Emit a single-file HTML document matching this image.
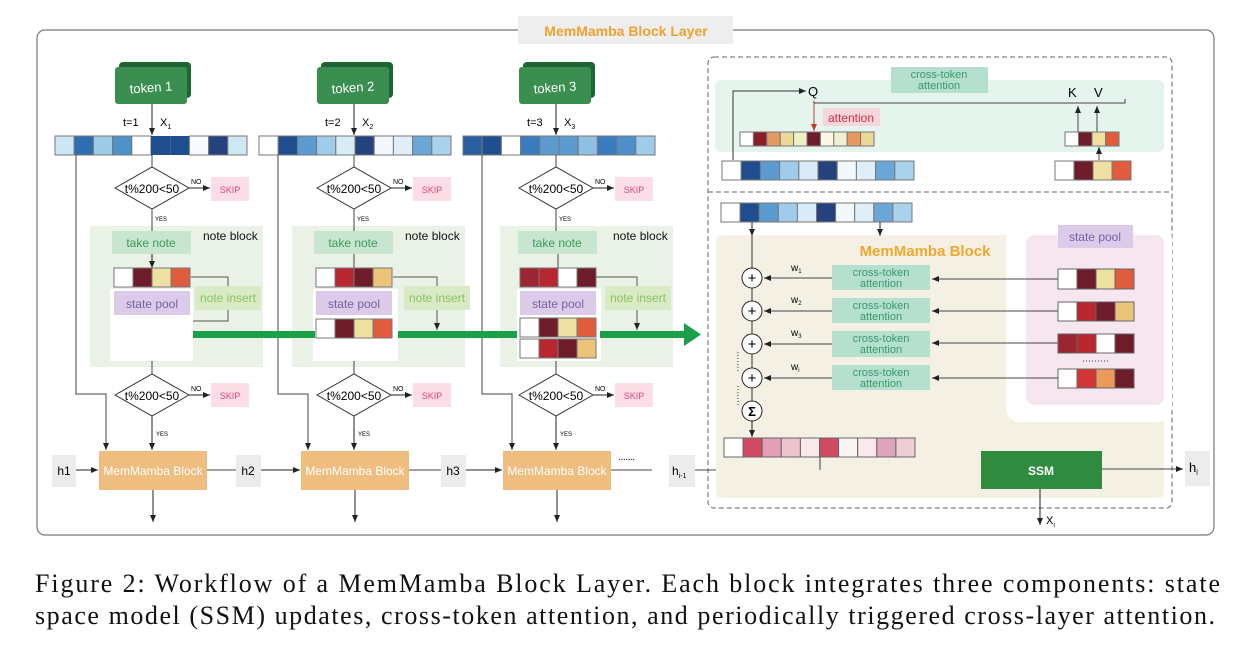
<!DOCTYPE html>
<html><head><meta charset="utf-8"><style>
html,body{margin:0;padding:0;background:#fff;}
svg{display:block;font-family:"Liberation Sans",sans-serif;}
</style></head><body>
<svg width="1256" height="656" viewBox="0 0 1256 656" xmlns="http://www.w3.org/2000/svg">
<defs>
<marker id="a" markerWidth="8" markerHeight="8" refX="7" refY="4" orient="auto" markerUnits="userSpaceOnUse"><path d="M0,1 L7,4 L0,7 z" fill="#222"/></marker>
<marker id="r" markerWidth="8" markerHeight="8" refX="7" refY="4" orient="auto" markerUnits="userSpaceOnUse"><path d="M0,1 L7,4 L0,7 z" fill="#c0392b"/></marker>
</defs>
<rect x="37" y="30" width="1177" height="505" rx="8" fill="none" stroke="#777" stroke-width="1.2"/>
<rect x="518" y="16" width="215" height="28" fill="#eeeeee"/>
<text x="626" y="36" font-size="14" font-weight="bold" fill="#f0a030" text-anchor="middle">MemMamba Block Layer</text>

<g id="c1">
<rect x="90" y="226" width="173" height="141" fill="#eaf2e8"/>
<text x="203" y="240" font-size="12" fill="#111">note block</text>
<rect x="119" y="62" width="72" height="36" rx="4" fill="#1f6535"/>
<rect x="115" y="67" width="72" height="37" rx="3" fill="#3a8f50"/>
<text x="151" y="92" font-size="13" fill="#fff" text-anchor="middle" transform="rotate(-4 151 88)">token 1</text>
<line x1="152" y1="104" x2="152" y2="135" stroke="#222" marker-end="url(#a)"/>
<text x="123" y="126" font-size="11">t=1</text>
<text x="160" y="126" font-size="11">X<tspan font-size="7" dy="3">1</tspan></text>
<g stroke="#777" stroke-width="1">
<rect x="55" y="136" width="19.2" height="19" fill="#cde6f3"/><rect x="74.2" y="136" width="19.2" height="19" fill="#2b6fb0"/><rect x="93.4" y="136" width="19.2" height="19" fill="#9ccbe6"/><rect x="112.6" y="136" width="19.2" height="19" fill="#4d93c8"/><rect x="131.8" y="136" width="19.2" height="19" fill="#fff"/><rect x="151" y="136" width="19.2" height="19" fill="#1f4e8f" stroke="none"/><rect x="170.2" y="136" width="19.2" height="19" fill="#1f4e8f" stroke="none"/><rect x="189.4" y="136" width="19.2" height="19" fill="#f7fbff"/><rect x="208.6" y="136" width="19.2" height="19" fill="#24427e"/><rect x="227.8" y="136" width="19.2" height="19" fill="#cfe6f3"/>
</g>
<polyline points="76,155 76,394 106,394 106,450" fill="none" stroke="#444" marker-end="url(#a)"/>
<line x1="152" y1="155" x2="152" y2="167" stroke="#444"/>
<polygon points="115,188 152,167 189,188 152,209" fill="#fff" stroke="#333"/>
<text x="152" y="193" font-size="12" text-anchor="middle">t%200&lt;50</text>
<line x1="189" y1="188" x2="210" y2="188" stroke="#222" marker-end="url(#a)"/>
<text x="191" y="184" font-size="7">NO</text>
<rect x="211" y="177" width="38" height="24" fill="#fbdde6"/>
<text x="230" y="193" font-size="9" fill="#e8457a" text-anchor="middle">SKIP</text>
<line x1="152" y1="209" x2="152" y2="231" stroke="#444"/>
<text x="155" y="221" font-size="6">YES</text>
<rect x="112" y="231" width="79" height="23" fill="#c8e6cf"/>
<text x="151" y="247" font-size="12" fill="#3a9a5a" text-anchor="middle">take note</text>
<line x1="152" y1="254" x2="152" y2="268" stroke="#222" marker-end="url(#a)"/>
<rect x="110" y="289" width="83" height="72" fill="#fff"/>
<rect x="114" y="291" width="76" height="24" fill="#dccbe8"/>
<text x="152" y="308" font-size="12" fill="#7b5ea8" text-anchor="middle">state pool</text>
<polyline points="191,277 228,277 228,321 193,321" fill="none" stroke="#555"/>
<rect x="195" y="286" width="66" height="24" fill="#d8ebc4"/>
<text x="228" y="302" font-size="12" fill="#8cc063" text-anchor="middle">note insert</text>
<line x1="152" y1="361" x2="152" y2="374" stroke="#444"/>
<polygon points="115,395 152,374 189,395 152,416" fill="#fff" stroke="#333"/>
<text x="152" y="400" font-size="12" text-anchor="middle">t%200&lt;50</text>
<line x1="189" y1="395" x2="210" y2="395" stroke="#222" marker-end="url(#a)"/>
<text x="191" y="391" font-size="7">NO</text>
<rect x="211" y="383" width="38" height="24" fill="#fbdde6"/>
<text x="230" y="399" font-size="9" fill="#e8457a" text-anchor="middle">SKIP</text>
<line x1="152" y1="416" x2="152" y2="450" stroke="#222" marker-end="url(#a)"/>
<text x="156" y="436" font-size="6">YES</text>
<rect x="99" y="451" width="108" height="39" fill="#eebd7f"/>
<text x="153" y="475" font-size="12" fill="#fff" text-anchor="middle">MemMamba Block</text>
<line x1="153" y1="490" x2="153" y2="522" stroke="#222" marker-end="url(#a)"/>
</g>
<g stroke="#777"><rect x="114" y="268" width="19" height="19" fill="#fff"/><rect x="133" y="268" width="19" height="19" fill="#6e1c2a"/><rect x="152" y="268" width="19" height="19" fill="#eee0a0"/><rect x="171" y="268" width="19" height="19" fill="#e05c3c"/></g>

<g transform="translate(202,0)">
<rect x="90" y="226" width="173" height="141" fill="#eaf2e8"/>
<text x="203" y="240" font-size="12" fill="#111">note block</text>
<rect x="119" y="62" width="72" height="36" rx="4" fill="#1f6535"/>
<rect x="115" y="67" width="72" height="37" rx="3" fill="#3a8f50"/>
<text x="151" y="92" font-size="13" fill="#fff" text-anchor="middle" transform="rotate(-4 151 88)">token 2</text>
<line x1="152" y1="104" x2="152" y2="135" stroke="#222" marker-end="url(#a)"/>
<text x="123" y="126" font-size="11">t=2</text>
<text x="160" y="126" font-size="11">X<tspan font-size="7" dy="3">2</tspan></text>
<g stroke="#777">
<rect x="57" y="136" width="19.2" height="19" fill="#fff"/><rect x="76.2" y="136" width="19.2" height="19" fill="#1f4e8f"/><rect x="95.4" y="136" width="19.2" height="19" fill="#5b9bd0"/><rect x="114.6" y="136" width="19.2" height="19" fill="#a0cceb"/><rect x="133.8" y="136" width="19.2" height="19" fill="#d9ebf6"/><rect x="153" y="136" width="19.2" height="19" fill="#24427e"/><rect x="172.2" y="136" width="19.2" height="19" fill="#f3f8fc"/><rect x="191.4" y="136" width="19.2" height="19" fill="#e0eef8"/><rect x="210.6" y="136" width="19.2" height="19" fill="#6aa6d6"/><rect x="229.8" y="136" width="19.2" height="19" fill="#aad2ec"/>
</g>
<polyline points="76,155 76,394 106,394 106,450" fill="none" stroke="#444" marker-end="url(#a)"/>
<line x1="152" y1="155" x2="152" y2="167" stroke="#444"/>
<polygon points="115,188 152,167 189,188 152,209" fill="#fff" stroke="#333"/>
<text x="152" y="193" font-size="12" text-anchor="middle">t%200&lt;50</text>
<line x1="189" y1="188" x2="210" y2="188" stroke="#222" marker-end="url(#a)"/>
<text x="191" y="184" font-size="7">NO</text>
<rect x="211" y="177" width="38" height="24" fill="#fbdde6"/>
<text x="230" y="193" font-size="9" fill="#e8457a" text-anchor="middle">SKIP</text>
<line x1="152" y1="209" x2="152" y2="231" stroke="#444"/>
<text x="155" y="221" font-size="6">YES</text>
<rect x="112" y="231" width="79" height="23" fill="#c8e6cf"/>
<text x="151" y="247" font-size="12" fill="#3a9a5a" text-anchor="middle">take note</text>
<line x1="152" y1="254" x2="152" y2="268" stroke="#444"/>
<rect x="111" y="289" width="85" height="72" fill="#fff"/>
<rect x="114" y="291" width="76" height="24" fill="#dccbe8"/>
<text x="152" y="308" font-size="12" fill="#7b5ea8" text-anchor="middle">state pool</text>
<polyline points="191,277 235,277 235,330" fill="none" stroke="#555" marker-end="url(#a)"/>
<rect x="202" y="286" width="66" height="24" fill="#d8ebc4"/>
<text x="235" y="302" font-size="12" fill="#8cc063" text-anchor="middle">note insert</text>
<line x1="152" y1="361" x2="152" y2="374" stroke="#444"/>
<polygon points="115,395 152,374 189,395 152,416" fill="#fff" stroke="#333"/>
<text x="152" y="400" font-size="12" text-anchor="middle">t%200&lt;50</text>
<line x1="189" y1="395" x2="210" y2="395" stroke="#222" marker-end="url(#a)"/>
<text x="191" y="391" font-size="7">NO</text>
<rect x="211" y="383" width="38" height="24" fill="#fbdde6"/>
<text x="230" y="399" font-size="9" fill="#e8457a" text-anchor="middle">SKIP</text>
<line x1="152" y1="416" x2="152" y2="450" stroke="#222" marker-end="url(#a)"/>
<text x="156" y="436" font-size="6">YES</text>
<rect x="99" y="451" width="108" height="39" fill="#eebd7f"/>
<text x="153" y="475" font-size="12" fill="#fff" text-anchor="middle">MemMamba Block</text>
<line x1="153" y1="490" x2="153" y2="522" stroke="#222" marker-end="url(#a)"/>
<g stroke="#777"><rect x="114" y="268" width="19" height="19" fill="#fff"/><rect x="133" y="268" width="19" height="19" fill="#b8262f"/><rect x="152" y="268" width="19" height="19" fill="#6e1c2a"/><rect x="171" y="268" width="19" height="19" fill="#ecc479"/>
<rect x="114" y="319" width="19" height="19" fill="#fff"/><rect x="133" y="319" width="19" height="19" fill="#6e1c2a"/><rect x="152" y="319" width="19" height="19" fill="#eee0a0"/><rect x="171" y="319" width="19" height="19" fill="#e05c3c"/></g>
</g>

<g transform="translate(404,0)">
<rect x="96" y="226" width="173" height="141" fill="#eaf2e8"/>
<text x="209" y="240" font-size="12" fill="#111">note block</text>
<rect x="119" y="62" width="72" height="36" rx="4" fill="#1f6535"/>
<rect x="115" y="67" width="72" height="37" rx="3" fill="#3a8f50"/>
<text x="151" y="92" font-size="13" fill="#fff" text-anchor="middle" transform="rotate(-4 151 88)">token 3</text>
<line x1="152" y1="104" x2="152" y2="135" stroke="#222" marker-end="url(#a)"/>
<text x="123" y="126" font-size="11">t=3</text>
<text x="160" y="126" font-size="11">X<tspan font-size="7" dy="3">3</tspan></text>
<g stroke="#777">
<rect x="59" y="136" width="19.2" height="19" fill="#2a5ea0"/><rect x="78.2" y="136" width="19.2" height="19" fill="#1f4e8f"/><rect x="97.4" y="136" width="19.2" height="19" fill="#fff"/><rect x="116.6" y="136" width="19.2" height="19" fill="#3a7cc0"/><rect x="135.8" y="136" width="19.2" height="19" fill="#5b9bd0"/><rect x="155" y="136" width="19.2" height="19" fill="#5b9bd0"/><rect x="174.2" y="136" width="19.2" height="19" fill="#8fc0e3"/><rect x="193.4" y="136" width="19.2" height="19" fill="#3a7cc0"/><rect x="212.6" y="136" width="19.2" height="19" fill="#4d8fc8"/><rect x="231.8" y="136" width="19.2" height="19" fill="#a0cceb"/>
</g>
<polyline points="78,155 78,394 108,394 108,450" fill="none" stroke="#444" marker-end="url(#a)"/>
<line x1="152" y1="155" x2="152" y2="167" stroke="#444"/>
<polygon points="115,188 152,167 189,188 152,209" fill="#fff" stroke="#333"/>
<text x="152" y="193" font-size="12" text-anchor="middle">t%200&lt;50</text>
<line x1="189" y1="188" x2="210" y2="188" stroke="#222" marker-end="url(#a)"/>
<text x="191" y="184" font-size="7">NO</text>
<rect x="211" y="177" width="38" height="24" fill="#fbdde6"/>
<text x="230" y="193" font-size="9" fill="#e8457a" text-anchor="middle">SKIP</text>
<line x1="152" y1="209" x2="152" y2="231" stroke="#444"/>
<text x="155" y="221" font-size="6">YES</text>
<rect x="114" y="231" width="79" height="23" fill="#c8e6cf"/>
<text x="153" y="247" font-size="12" fill="#3a9a5a" text-anchor="middle">take note</text>
<line x1="154" y1="254" x2="154" y2="268" stroke="#444"/>
<rect x="113" y="289" width="84" height="72" fill="#fff"/>
<rect x="116" y="291" width="76" height="24" fill="#dccbe8"/>
<text x="154" y="308" font-size="12" fill="#7b5ea8" text-anchor="middle">state pool</text>
<polyline points="192,277 233,277 233,330" fill="none" stroke="#555" marker-end="url(#a)"/>
<rect x="201" y="286" width="66" height="24" fill="#d8ebc4"/>
<text x="234" y="302" font-size="12" fill="#8cc063" text-anchor="middle">note insert</text>
<line x1="152" y1="361" x2="152" y2="374" stroke="#444"/>
<polygon points="115,395 152,374 189,395 152,416" fill="#fff" stroke="#333"/>
<text x="152" y="400" font-size="12" text-anchor="middle">t%200&lt;50</text>
<line x1="189" y1="395" x2="210" y2="395" stroke="#222" marker-end="url(#a)"/>
<text x="191" y="391" font-size="7">NO</text>
<rect x="211" y="383" width="38" height="24" fill="#fbdde6"/>
<text x="230" y="399" font-size="9" fill="#e8457a" text-anchor="middle">SKIP</text>
<line x1="152" y1="416" x2="152" y2="450" stroke="#222" marker-end="url(#a)"/>
<text x="156" y="436" font-size="6">YES</text>
<rect x="99" y="451" width="108" height="39" fill="#eebd7f"/>
<text x="153" y="475" font-size="12" fill="#fff" text-anchor="middle">MemMamba Block</text>
<line x1="153" y1="490" x2="153" y2="522" stroke="#222" marker-end="url(#a)"/>
<g stroke="#777"><rect x="116" y="268" width="19" height="19" fill="#9b2530"/><rect x="135" y="268" width="19" height="19" fill="#b8262f"/><rect x="154" y="268" width="19" height="19" fill="#fff"/><rect x="173" y="268" width="19" height="19" fill="#6e1c2a"/>
<rect x="116" y="318" width="19" height="19" fill="#fff"/><rect x="135" y="318" width="19" height="19" fill="#6e1c2a"/><rect x="154" y="318" width="19" height="19" fill="#eee0a0"/><rect x="173" y="318" width="19" height="19" fill="#e05c3c"/>
<rect x="116" y="339" width="19" height="19" fill="#fff"/><rect x="135" y="339" width="19" height="19" fill="#b8262f"/><rect x="154" y="339" width="19" height="19" fill="#6e1c2a"/><rect x="173" y="339" width="19" height="19" fill="#ecc479"/></g>
</g>

<g fill="#1aa048">
<rect x="193" y="331" width="122" height="7"/>
<rect x="398" y="331" width="119" height="7"/>
<rect x="600" y="331" width="86" height="7"/>
<polygon points="684,323 701,334.5 684,346"/>
</g>

<rect x="52" y="455" width="24" height="32" fill="#ececec"/><text x="64" y="475" font-size="12" text-anchor="middle">h1</text>
<line x1="76" y1="470" x2="98" y2="470" stroke="#222" marker-end="url(#a)"/>
<line x1="207" y1="470" x2="236" y2="470" stroke="#444"/>
<rect x="236" y="455" width="25" height="32" fill="#ececec"/><text x="248" y="475" font-size="12" text-anchor="middle">h2</text>
<line x1="261" y1="470" x2="300" y2="470" stroke="#222" marker-end="url(#a)"/>
<line x1="409" y1="470" x2="441" y2="470" stroke="#444"/>
<rect x="441" y="455" width="25" height="32" fill="#ececec"/><text x="453" y="475" font-size="12" text-anchor="middle">h3</text>
<line x1="466" y1="470" x2="502" y2="470" stroke="#222" marker-end="url(#a)"/>
<line x1="611" y1="470" x2="652" y2="470" stroke="#444"/>
<text x="618" y="462" font-size="10" letter-spacing="-1">·······</text>
<rect x="669" y="455" width="26" height="32" fill="#ececec"/><text x="672" y="475" font-size="12">h<tspan font-size="7" dy="3">i-1</tspan></text>
<line x1="695" y1="470" x2="980" y2="470" stroke="#444" marker-end="url(#a)"/>

<rect x="708" y="57" width="464" height="451" rx="6" fill="none" stroke="#666" stroke-dasharray="5,3"/>
<line x1="708" y1="192" x2="1172" y2="192" stroke="#666" stroke-dasharray="5,3"/>
<rect x="715" y="80" width="449" height="72" rx="6" fill="#e6f4ee"/>
<rect x="891" y="67" width="97" height="26" fill="#b5e0cf"/>
<text x="939" y="78" font-size="11" fill="#3a9a6a" text-anchor="middle">cross-token</text>
<text x="939" y="89" font-size="11" fill="#3a9a6a" text-anchor="middle">attention</text>
<polyline points="733,160 733,91 806,91" fill="none" stroke="#333" marker-end="url(#a)"/>
<text x="808" y="96" font-size="13">Q</text>
<polyline points="814,101 814,103 1125,103 1125,99" fill="none" stroke="#444"/>
<line x1="814" y1="103" x2="814" y2="131" stroke="#c0392b" marker-end="url(#r)"/>
<rect x="823" y="108" width="57" height="18" fill="#f6d6dc"/>
<text x="851" y="122" font-size="12" fill="#d03040" text-anchor="middle">attention</text>
<text x="1068" y="97" font-size="13">K</text><text x="1094" y="97" font-size="13">V</text>
<line x1="1078" y1="132" x2="1078" y2="106" stroke="#444" marker-end="url(#a)"/>
<line x1="1097" y1="132" x2="1097" y2="106" stroke="#444" marker-end="url(#a)"/>
<line x1="1099" y1="160" x2="1099" y2="147" stroke="#444" marker-end="url(#a)"/>
<g stroke="#777">
<rect x="740" y="132" width="13.4" height="14" fill="#fff"/><rect x="753.4" y="132" width="13.4" height="14" fill="#8a1f2a"/><rect x="766.8" y="132" width="13.4" height="14" fill="#e69a60"/><rect x="780.2" y="132" width="13.4" height="14" fill="#ecd898"/><rect x="793.6" y="132" width="13.4" height="14" fill="#eef0c8"/><rect x="807" y="132" width="13.4" height="14" fill="#6e1c2a"/><rect x="820.4" y="132" width="13.4" height="14" fill="#fbf8e6"/><rect x="833.8" y="132" width="13.4" height="14" fill="#eef0d0"/><rect x="847.2" y="132" width="13.4" height="14" fill="#e69a60"/><rect x="860.6" y="132" width="13.4" height="14" fill="#ecd898"/>
<rect x="1065" y="132" width="13.5" height="14" fill="#fff"/><rect x="1078.5" y="132" width="13.5" height="14" fill="#6e1c2a"/><rect x="1092" y="132" width="13.5" height="14" fill="#eee0a0"/><rect x="1105.5" y="132" width="13.5" height="14" fill="#e05c3c"/>
<rect x="1055" y="161" width="19" height="19" fill="#fff"/><rect x="1074" y="161" width="19" height="19" fill="#6e1c2a"/><rect x="1093" y="161" width="19" height="19" fill="#eee0a0"/><rect x="1112" y="161" width="19" height="19" fill="#e05c3c"/>
<rect x="722" y="161" width="19.2" height="19" fill="#fff"/><rect x="741.2" y="161" width="19.2" height="19" fill="#1f4e8f"/><rect x="760.4" y="161" width="19.2" height="19" fill="#5b9bd0"/><rect x="779.6" y="161" width="19.2" height="19" fill="#a0cceb"/><rect x="798.8" y="161" width="19.2" height="19" fill="#d9ebf6"/><rect x="818" y="161" width="19.2" height="19" fill="#24427e"/><rect x="837.2" y="161" width="19.2" height="19" fill="#f3f8fc"/><rect x="856.4" y="161" width="19.2" height="19" fill="#e0eef8"/><rect x="875.6" y="161" width="19.2" height="19" fill="#6aa6d6"/><rect x="894.8" y="161" width="19.2" height="19" fill="#aad2ec"/>
</g>

<rect x="716" y="235" width="448" height="263" rx="6" fill="#f4f1e4"/>
<rect x="1006" y="225" width="166" height="197" rx="14" fill="#fff"/>
<rect x="1026" y="235" width="138" height="170" rx="8" fill="#f6e6f0"/>
<rect x="1058" y="225" width="75" height="23" fill="#dccbe8"/>
<text x="1095" y="241" font-size="12" fill="#7b5ea8" text-anchor="middle">state pool</text>
<text x="925" y="256" font-size="15" font-weight="bold" fill="#f0a830" text-anchor="middle">MemMamba Block</text>
<g stroke="#777">
<rect x="721" y="203" width="19.1" height="19" fill="#fff"/><rect x="740.1" y="203" width="19.1" height="19" fill="#1f4e8f"/><rect x="759.2" y="203" width="19.1" height="19" fill="#5b9bd0"/><rect x="778.3" y="203" width="19.1" height="19" fill="#a0cceb"/><rect x="797.4" y="203" width="19.1" height="19" fill="#d9ebf6"/><rect x="816.5" y="203" width="19.1" height="19" fill="#24427e"/><rect x="835.6" y="203" width="19.1" height="19" fill="#f3f8fc"/><rect x="854.7" y="203" width="19.1" height="19" fill="#e0eef8"/><rect x="873.8" y="203" width="19.1" height="19" fill="#6aa6d6"/><rect x="892.9" y="203" width="19.1" height="19" fill="#aad2ec"/>
</g>
<line x1="752" y1="222" x2="752" y2="437" stroke="#333"/>
<line x1="752" y1="222" x2="752" y2="236" stroke="#222" marker-end="url(#a)"/>
<line x1="880" y1="222" x2="880" y2="236" stroke="#222" marker-end="url(#a)"/>
<line x1="752" y1="421" x2="752" y2="437" stroke="#222" marker-end="url(#a)"/>
<g font-size="10">
<text x="791" y="271">w<tspan font-size="6" dy="2">1</tspan></text>
<text x="791" y="303">w<tspan font-size="6" dy="2">2</tspan></text>
<text x="791" y="336">w<tspan font-size="6" dy="2">3</tspan></text>
<text x="791" y="370">w<tspan font-size="6" dy="2">i</tspan></text>
</g>
<g fill="#b5e0cf">
<rect x="832" y="265" width="98" height="25"/><rect x="832" y="298" width="98" height="25"/><rect x="832" y="331" width="98" height="26"/><rect x="832" y="365" width="98" height="25"/>
</g>
<g font-size="11" fill="#3a9a6a" text-anchor="middle">
<text x="881" y="276">cross-token</text><text x="881" y="287">attention</text>
<text x="881" y="309">cross-token</text><text x="881" y="320">attention</text>
<text x="881" y="342">cross-token</text><text x="881" y="353">attention</text>
<text x="881" y="376">cross-token</text><text x="881" y="387">attention</text>
</g>
<g stroke="#444" marker-end="url(#a)">
<line x1="832" y1="278" x2="764" y2="278"/><line x1="832" y1="311" x2="764" y2="311"/><line x1="832" y1="344" x2="764" y2="344"/><line x1="832" y1="378" x2="764" y2="378"/>
<line x1="1058" y1="279" x2="932" y2="279"/><line x1="1058" y1="311" x2="932" y2="311"/><line x1="1058" y1="343" x2="932" y2="343"/><line x1="1058" y1="378" x2="932" y2="378"/>
</g>
<g fill="#fff" stroke="#222">
<circle cx="752" cy="278" r="10"/><circle cx="752" cy="311" r="10"/><circle cx="752" cy="344" r="10"/><circle cx="752" cy="378" r="10"/><circle cx="752" cy="411" r="10"/>
</g>
<g font-size="15" text-anchor="middle">
<text x="752" y="283">+</text><text x="752" y="316">+</text><text x="752" y="349">+</text><text x="752" y="383">+</text>
<text x="752" y="416" font-size="13" font-weight="bold">Σ</text>
</g>
<line x1="738" y1="352" x2="738" y2="372" stroke="#333" stroke-dasharray="1,2"/>
<line x1="738" y1="386" x2="738" y2="405" stroke="#333" stroke-dasharray="1,2"/>
<line x1="1083" y1="361" x2="1110" y2="361" stroke="#333" stroke-dasharray="1,2"/>
<g stroke="#666">
<rect x="1058" y="269" width="19" height="20" fill="#fff"/><rect x="1077" y="269" width="19" height="20" fill="#6e1c2a"/><rect x="1096" y="269" width="19" height="20" fill="#eee0a0"/><rect x="1115" y="269" width="19" height="20" fill="#e05c3c"/>
<rect x="1058" y="302" width="19" height="19" fill="#fff"/><rect x="1077" y="302" width="19" height="19" fill="#b8262f"/><rect x="1096" y="302" width="19" height="19" fill="#6e1c2a"/><rect x="1115" y="302" width="19" height="19" fill="#ecc479"/>
<rect x="1058" y="334" width="19" height="19" fill="#9b2530"/><rect x="1077" y="334" width="19" height="19" fill="#b8262f"/><rect x="1096" y="334" width="19" height="19" fill="#fff"/><rect x="1115" y="334" width="19" height="19" fill="#6e1c2a"/>
<rect x="1058" y="369" width="19" height="19" fill="#fff"/><rect x="1077" y="369" width="19" height="19" fill="#d33535"/><rect x="1096" y="369" width="19" height="19" fill="#ec9a58"/><rect x="1115" y="369" width="19" height="19" fill="#6e1c2a"/>
<rect x="724" y="438" width="19.1" height="19" fill="#fff"/><rect x="743.1" y="438" width="19.1" height="19" fill="#d14a64"/><rect x="762.2" y="438" width="19.1" height="19" fill="#e2a0b8"/><rect x="781.3" y="438" width="19.1" height="19" fill="#efc2d0"/><rect x="800.4" y="438" width="19.1" height="19" fill="#fbe8ec"/><rect x="819.5" y="438" width="19.1" height="19" fill="#d14a64"/><rect x="838.6" y="438" width="19.1" height="19" fill="#fbf5f6"/><rect x="857.7" y="438" width="19.1" height="19" fill="#fbe8ec"/><rect x="876.8" y="438" width="19.1" height="19" fill="#e0a3bc"/><rect x="895.9" y="438" width="19.1" height="19" fill="#f0ccd6"/>
</g>
<line x1="820" y1="457" x2="820" y2="470" stroke="#444"/>
<rect x="981" y="451" width="121" height="38" fill="#2e8b40"/>
<text x="1041" y="475" font-size="12" font-weight="bold" fill="#fff" text-anchor="middle">SSM</text>
<line x1="1102" y1="469" x2="1183" y2="469" stroke="#444" marker-end="url(#a)"/>
<rect x="1185" y="451" width="25" height="35" fill="#ececec"/>
<text x="1189" y="472" font-size="13">h<tspan font-size="7" dy="3">l</tspan></text>
<line x1="1040" y1="489" x2="1040" y2="525" stroke="#222" marker-end="url(#a)"/>
<text x="1046" y="524" font-size="11">X<tspan font-size="7" dy="3">i</tspan></text>

<g font-family="'Liberation Serif',serif" font-size="26" fill="#111">
<text x="35" y="592" textLength="1185" lengthAdjust="spacing">Figure 2: Workflow of a MemMamba Block Layer. Each block integrates three components: state</text>
<text x="35" y="624" textLength="1180" lengthAdjust="spacing">space model (SSM) updates, cross-token attention, and periodically triggered cross-layer attention.</text>
</g>
</svg>
</body></html>
